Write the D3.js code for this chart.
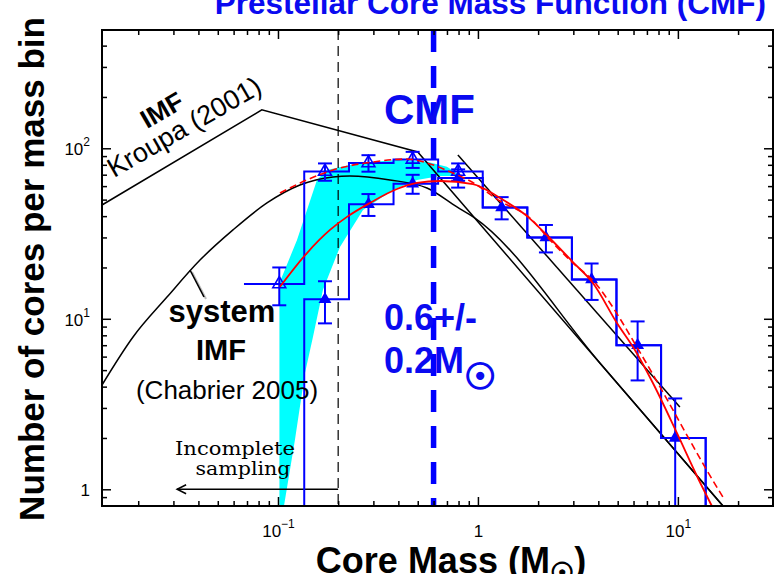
<!DOCTYPE html>
<html>
<head>
<meta charset="utf-8">
<script src="https://cdn.jsdelivr.net/npm/d3@7"></script>
<style>
  html, body { margin: 0; padding: 0; background: #fff; }
  svg { display: block; font-family: "Liberation Sans", Arial, Helvetica, sans-serif; }
</style>
</head>
<body>
<svg id="chart" width="775" height="574"></svg>
<script>
// ---------------- data ----------------
// histogram bin edges (solar masses) and counts per bin
const binEdges = [0.0676, 0.1353, 0.2265, 0.3784, 0.6324, 1.057, 1.766, 2.951, 4.93, 8.24, 13.77, 20.4];
const allCoreCounts    = [16, 73, 82, 86, 73, 45, 30, 17, 7, 2, 0];
const robustCoreCounts = [0, 13, 47, 62, 67, 45, 30, 17, 7, 2, 0];

// plotted points with Poisson error bars
const allCoreMass = [0.1015, 0.1718, 0.2835, 0.4716, 0.7962];
const allCoreN    = [16, 73, 82, 86, 73];
const allCoreErr  = [4.0, 8.5, 9.1, 9.3, 8.5];

const robustCoreMass = [0.1718, 0.2835, 0.4716, 0.7962, 1.314, 2.188, 3.702, 6.289, 9.694];
const robustCoreN    = [13, 47, 62, 67, 45, 30, 17, 7, 2];
const robustCoreErr  = [3.6, 6.9, 7.9, 8.2, 6.7, 5.5, 4.1, 2.65, 1.41];

// lognormal fits (solid: robust cores, dashed: all cores)
const fitRobustMass = [0.1023, 0.1396, 0.182, 0.2213, 0.2884, 0.3936, 0.4955, 0.6457, 0.944, 1.288, 1.778, 2.213, 2.985, 3.758, 4.955, 6.095, 7.499, 9.886, 12.59, 14.79];
const fitRobustN    = [15.4, 24.3, 33.2, 39.6, 47.8, 57.7, 62.6, 64.3, 61.7, 51.1, 39.6, 30.9, 21.5, 16.2, 9.45, 6.56, 4.20, 2.14, 1.165, 0.798];
const fitAllMass = [0.1023, 0.1396, 0.1884, 0.2985, 0.4416, 0.5559, 0.7499, 0.9333, 1.288, 1.820, 2.291, 2.985, 3.936, 4.467, 6.237, 8.414, 11.22, 14.13, 16.79];
const fitAllN    = [54.7, 65.2, 74.6, 83.1, 86.5, 82.0, 71.6, 63.4, 49.1, 39.0, 29.0, 21.25, 15.8, 12.9, 6.83, 3.72, 2.03, 1.26, 0.901];

// range of completeness-corrected CMF (shaded band)
const bandUpperMass = [0.1017, 0.1017, 0.1245, 0.1567, 0.1758, 0.229, 0.2985, 0.3936, 0.5559, 0.6998, 0.7852];
const bandUpperN    = [0.8, 16.2, 29.0, 65.2, 74.6, 79.8, 83.4, 85.4, 83.4, 78.0, 71.4];
const bandLowerMass = [0.7852, 0.6457, 0.4955, 0.3758, 0.2661, 0.2042, 0.1679, 0.1496, 0.1365, 0.1216, 0.1072];
const bandLowerN    = [68.8, 68.8, 65.2, 56.9, 43.5, 26.4, 14.8, 7.82, 4.81, 1.95, 0.8];

// Kroupa (2001) IMF, broken power law
const kroupaMass = [0.01318, 0.083, 0.5, 16.8];
const kroupaN    = [46.5, 168, 95.1, 0.8];

// Chabrier (2005) system IMF
const chabrierMass = [0.01318, 0.01884, 0.02786, 0.04074, 0.05957, 0.0881, 0.1288, 0.1884, 0.2291, 0.3631, 0.5559, 0.7852, 0.966, 4.074, 16.79];
const chabrierN    = [4.09, 7.82, 13.4, 22.1, 33.2, 47.8, 60.9, 67.9, 68.8, 65.2, 58.5, 45.3, 39.0, 5.51, 0.798];

// high-mass power-law reference segment
const powerLawMass = [0.794, 10.23];
const powerLawN    = [91.4, 3.04];

// CMF peak and completeness limit
const peakMass = 0.6;
const completenessMass = 0.2;
const incompleteArrowTo = 0.0313;
const incompleteArrowN = 1;

// axis ticks
const xMajorTicks = [0.1, 1, 10];
const xTickBase = ["10", "1", "10"];
const xTickExp  = ["\u22121", "", "1"];
const xMinorTicks = [0.02, 0.03, 0.04, 0.05, 0.06, 0.07, 0.08, 0.09, 0.2, 0.3, 0.4, 0.5, 0.6, 0.7, 0.8, 0.9, 2, 3, 4, 5, 6, 7, 8, 9, 20];
const yMajorTicks = [1, 10, 100];
const yTickBase = ["1", "10", "10"];
const yTickExp  = ["", "1", "2"];
const yMinorTicks = [0.9, 2, 3, 4, 5, 6, 7, 8, 9, 20, 30, 40, 50, 60, 70, 80, 90, 200, 300, 400];

// ---------------- layout ----------------
const plot = { left: 102, right: 773, top: 30, bottom: 506 };
const BLUE = "#0000ff", TEXTBLUE = "#0a0af0", RED = "#ff0000", CYAN = "#00ffff";

const x = d3.scaleLog().domain([0.01318, 29.9]).range([plot.left, plot.right]);
const y = d3.scaleLog().domain([0.798, 494]).range([plot.bottom, plot.top]);
const yc = v => y(Math.max(v, y.domain()[0]));   // empty bins sit on the lower frame

const svg = d3.select("#chart");

svg.append("defs").append("clipPath").attr("id", "plotClip")
  .append("rect")
  .attr("x", plot.left).attr("y", plot.top)
  .attr("width", plot.right - plot.left).attr("height", plot.bottom - plot.top + 2);

const data = svg.append("g").attr("clip-path", "url(#plotClip)");

const zip = (ms, ns) => ms.map((m, i) => [m, ns[i]]);
const line = d3.line().x(d => x(d[0])).y(d => yc(d[1]));
const smooth = d3.line().x(d => x(d[0])).y(d => yc(d[1])).curve(d3.curveMonotoneX);

// shaded band
const bandPts = zip(bandUpperMass, bandUpperN).concat(zip(bandLowerMass, bandLowerN));
data.append("path")
  .attr("d", d3.line().x(d => x(d[0])).y(d => yc(d[1])).curve(d3.curveLinearClosed)(bandPts))
  .attr("fill", CYAN).attr("stroke", "none");

// black reference curves
data.append("path").attr("d", line(zip(kroupaMass, kroupaN)))
  .attr("fill", "none").attr("stroke", "#000").attr("stroke-width", 1.5);
data.append("path").attr("d", smooth(zip(chabrierMass, chabrierN)))
  .attr("fill", "none").attr("stroke", "#000").attr("stroke-width", 1.5);
data.append("path").attr("d", line(zip(powerLawMass, powerLawN)))
  .attr("fill", "none").attr("stroke", "#000").attr("stroke-width", 1.5);

// completeness limit and arrow
data.append("line")
  .attr("x1", x(completenessMass)).attr("x2", x(completenessMass))
  .attr("y1", plot.top).attr("y2", plot.bottom)
  .attr("stroke", "#000").attr("stroke-width", 1.2).attr("stroke-dasharray", "10,6");
const ay = y(incompleteArrowN), ax = x(incompleteArrowTo);
data.append("line")
  .attr("x1", x(completenessMass)).attr("x2", ax).attr("y1", ay).attr("y2", ay)
  .attr("stroke", "#000").attr("stroke-width", 1.5);
data.append("path")
  .attr("d", `M${ax + 9},${ay - 4.5}L${ax},${ay}L${ax + 9},${ay + 4.5}`)
  .attr("fill", "none").attr("stroke", "#000").attr("stroke-width", 1.5);

// step histograms
function stepPath(edges, counts) {
  const p = d3.path();
  counts.forEach((c, i) => {
    const yy = yc(c);
    if (i === 0) p.moveTo(x(edges[0]), yy); else p.lineTo(x(edges[i]), yy);
    p.lineTo(x(edges[i + 1]), yy);
  });
  return p.toString();
}
data.append("path").attr("d", stepPath(binEdges, allCoreCounts))
  .attr("fill", "none").attr("stroke", BLUE).attr("stroke-width", 2);
data.append("path").attr("d", stepPath(binEdges, robustCoreCounts))
  .attr("fill", "none").attr("stroke", BLUE).attr("stroke-width", 2);

// CMF peak
data.append("line")
  .attr("x1", x(peakMass)).attr("x2", x(peakMass))
  .attr("y1", plot.top).attr("y2", plot.bottom)
  .attr("stroke", BLUE).attr("stroke-width", 5.5).attr("stroke-dasharray", "22,14");

// error bars and markers
function errorBars(ms, ns, es) {
  const g = data.append("g").attr("stroke", BLUE).attr("stroke-width", 2);
  ms.forEach((m, i) => {
    const cx = x(m), top = yc(ns[i] + es[i]), bot = yc(ns[i] - es[i]);
    g.append("line").attr("x1", cx).attr("x2", cx).attr("y1", top).attr("y2", bot);
    g.append("line").attr("x1", cx - 7).attr("x2", cx + 7).attr("y1", top).attr("y2", top);
    if (ns[i] - es[i] > y.domain()[0])
      g.append("line").attr("x1", cx - 7).attr("x2", cx + 7).attr("y1", bot).attr("y2", bot);
  });
}
errorBars(allCoreMass, allCoreN, allCoreErr);
errorBars(robustCoreMass, robustCoreN, robustCoreErr);

const tri = d3.symbol(d3.symbolTriangle, 72);
data.append("g").selectAll("path").data(zip(allCoreMass, allCoreN)).join("path")
  .attr("d", tri).attr("transform", d => `translate(${x(d[0])},${y(d[1])})`)
  .attr("fill", "none").attr("stroke", BLUE).attr("stroke-width", 1.6);
data.append("g").selectAll("path").data(zip(robustCoreMass, robustCoreN)).join("path")
  .attr("d", tri).attr("transform", d => `translate(${x(d[0])},${y(d[1])})`)
  .attr("fill", BLUE);

// lognormal fits
data.append("path").attr("d", smooth(zip(fitAllMass, fitAllN)))
  .attr("fill", "none").attr("stroke", RED).attr("stroke-width", 1.6).attr("stroke-dasharray", "7,4");
data.append("path").attr("d", smooth(zip(fitRobustMass, fitRobustN)))
  .attr("fill", "none").attr("stroke", RED).attr("stroke-width", 1.8);

// ---------------- axes ----------------
function ticks(axisFn, scale, values, size, tx, ty) {
  const g = svg.append("g").attr("transform", `translate(${tx},${ty})`)
    .call(axisFn(scale).tickValues(values).tickSize(size).tickFormat(""));
  g.select(".domain").remove();
  g.selectAll(".tick line").attr("stroke", "#000").attr("stroke-width", 1.5);
  return g;
}
const xBottom = ticks(d3.axisBottom, x, xMajorTicks, -9, 0, plot.bottom);
ticks(d3.axisBottom, x, xMinorTicks, -5, 0, plot.bottom);
ticks(d3.axisTop, x, xMajorTicks, -9, 0, plot.top);
ticks(d3.axisTop, x, xMinorTicks, -5, 0, plot.top);
const yLeft = ticks(d3.axisLeft, y, yMajorTicks, -9, plot.left, 0);
ticks(d3.axisLeft, y, yMinorTicks, -5, plot.left, 0);
ticks(d3.axisRight, y, yMajorTicks, -9, plot.right, 0);
ticks(d3.axisRight, y, yMinorTicks, -5, plot.right, 0);

xBottom.selectAll(".tick").each(function (d, i) {
  const t = d3.select(this).append("text")
    .attr("y", 31).attr("text-anchor", "middle")
    .attr("fill", "#000").attr("font-size", 17).attr("font-family", "Liberation Sans, Arial, sans-serif");
  t.append("tspan").text(xTickBase[i]);
  if (xTickExp[i]) t.append("tspan").attr("dy", -9).attr("font-size", 12).text(xTickExp[i]);
});
yLeft.selectAll(".tick").each(function (d, i) {
  const t = d3.select(this).append("text")
    .attr("x", -12).attr("dy", 6.5).attr("text-anchor", "end")
    .attr("fill", "#000").attr("font-size", 17).attr("font-family", "Liberation Sans, Arial, sans-serif");
  t.append("tspan").text(yTickBase[i]);
  if (yTickExp[i]) t.append("tspan").attr("dy", -9).attr("font-size", 12).text(yTickExp[i]);
});

// frame
svg.append("rect")
  .attr("x", plot.left).attr("y", plot.top)
  .attr("width", plot.right - plot.left).attr("height", plot.bottom - plot.top)
  .attr("fill", "none").attr("stroke", "#000").attr("stroke-width", 2);

// ---------------- labels ----------------
svg.append("text")
  .attr("x", 766).attr("y", 14).attr("text-anchor", "end")
  .attr("font-size", 31.5).attr("font-weight", "bold").attr("fill", TEXTBLUE)
  .text("Prestellar Core Mass Function (CMF)");

svg.append("text")
  .attr("transform", "translate(44,269) rotate(-90)").attr("text-anchor", "middle")
  .attr("font-size", 35).attr("font-weight", "bold").attr("fill", "#000")
  .text("Number of cores per mass bin");

const xTitle = svg.append("text")
  .attr("x", 451).attr("y", 573).attr("text-anchor", "middle")
  .attr("font-size", 36).attr("font-weight", "bold").attr("fill", "#000");
xTitle.append("tspan").text("Core Mass (M");
xTitle.append("tspan").attr("dy", 9).attr("font-family", "DejaVu Sans").attr("font-size", 27)
  .attr("stroke", "#000").attr("stroke-width", 1.2).text("\u2609");
xTitle.append("tspan").attr("dy", -9).text(")");

// Kroupa annotation
svg.append("text").attr("transform", "translate(147,129) rotate(-30)")
  .attr("font-size", 26).attr("font-weight", "bold").attr("fill", "#000").text("IMF");
svg.append("text").attr("transform", "translate(114,178) rotate(-30)")
  .attr("font-size", 27).attr("fill", "#000").text("Kroupa (2001)");

// Chabrier annotation
svg.append("line").attr("x1", 192).attr("y1", 272).attr("x2", 206).attr("y2", 299)
  .attr("stroke", "#bbb").attr("stroke-width", 2);
svg.append("line").attr("x1", 190).attr("y1", 270).attr("x2", 204).attr("y2", 297)
  .attr("stroke", "#000").attr("stroke-width", 1.6);
svg.append("text").attr("x", 222).attr("y", 322).attr("text-anchor", "middle")
  .attr("font-size", 31).attr("font-weight", "bold").attr("fill", "#000").text("system");
svg.append("text").attr("x", 221).attr("y", 360).attr("text-anchor", "middle")
  .attr("font-size", 29).attr("font-weight", "bold").attr("fill", "#000").text("IMF");
svg.append("text").attr("x", 227).attr("y", 399).attr("text-anchor", "middle")
  .attr("font-size", 26).attr("fill", "#000").text("(Chabrier 2005)");

// completeness annotation
svg.append("text").attr("x", 235).attr("y", 455).attr("text-anchor", "middle")
  .attr("font-family", "DejaVu Serif, serif").attr("font-size", 18.5).attr("fill", "#000")
  .attr("textLength", 120).attr("lengthAdjust", "spacingAndGlyphs").text("Incomplete");
svg.append("text").attr("x", 243).attr("y", 475).attr("text-anchor", "middle")
  .attr("font-family", "DejaVu Serif, serif").attr("font-size", 18.5).attr("fill", "#000")
  .attr("textLength", 95).attr("lengthAdjust", "spacingAndGlyphs").text("sampling");

// CMF peak annotation
svg.append("text").attr("x", 384).attr("y", 124).attr("font-size", 42)
  .attr("font-weight", "bold").attr("fill", TEXTBLUE).text("CMF");
svg.append("text").attr("x", 384).attr("y", 330).attr("font-size", 36)
  .attr("font-weight", "bold").attr("fill", TEXTBLUE).text("0.6+/-");
const peakLbl = svg.append("text").attr("x", 384).attr("y", 373).attr("font-size", 36)
  .attr("font-weight", "bold").attr("fill", TEXTBLUE);
peakLbl.append("tspan").text("0.2M");
peakLbl.append("tspan").attr("dy", 16).attr("font-family", "DejaVu Sans").attr("font-size", 36)
  .attr("stroke", TEXTBLUE).attr("stroke-width", 1.6).text("\u2609");
</script>
</body>
</html>
